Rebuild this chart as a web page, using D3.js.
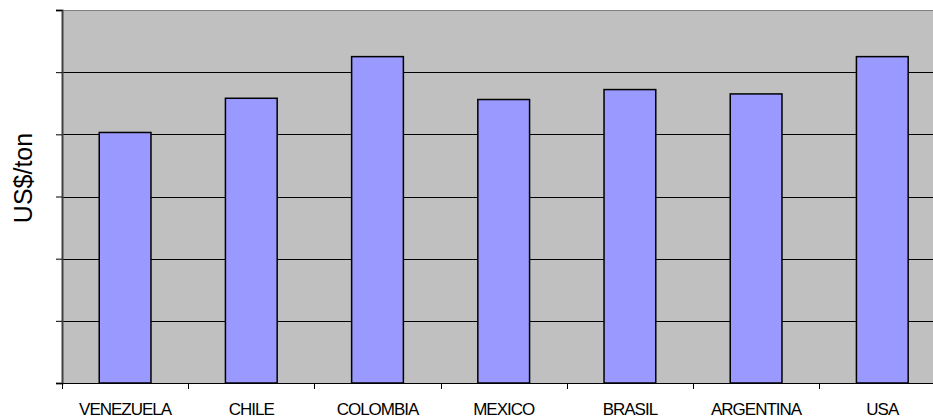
<!DOCTYPE html>
<html>
<head>
<meta charset="utf-8">
<script src="https://cdn.jsdelivr.net/npm/d3@7"></script>
<style>
html,body{margin:0;padding:0;background:#fff;}
svg{display:block;}
text{font-family:"Liberation Sans",Arial,sans-serif;fill:#000;}
</style>
</head>
<body>
<svg id="chart" width="933" height="420"></svg>
<script>
const categories = ["VENEZUELA","CHILE","COLOMBIA","MEXICO","BRASIL","ARGENTINA","USA"];
const values = [403, 458, 525, 456, 472, 465, 525];
const yTicks = [0, 100, 200, 300, 400, 500, 600];
const yTitle = "US$/ton";

const svg = d3.select("#chart");
const pLeft = 62, pTop = 10, pBottom = 383, band = 126.2;
const pRight = pLeft + band * categories.length;

const x = d3.scaleBand().domain(categories).range([pLeft, pRight]).paddingInner(0).paddingOuter(0);
const y = d3.scaleLinear().domain([0, 600]).range([pBottom, pTop]);

// plot background
svg.append("rect").attr("x", pLeft).attr("y", pTop).attr("width", pRight - pLeft).attr("height", pBottom - pTop).attr("fill", "#C0C0C0");
// top border
svg.append("line").attr("x1", pLeft).attr("x2", pRight).attr("y1", pTop + 0.5).attr("y2", pTop + 0.5).attr("stroke", "#808080").attr("stroke-width", 1);

// gridlines
svg.append("g").selectAll("line").data(yTicks.filter(d => d > 0 && d < 600)).join("line")
  .attr("x1", pLeft).attr("x2", pRight)
  .attr("y1", d => Math.round(y(d)) + 0.5).attr("y2", d => Math.round(y(d)) + 0.5)
  .attr("stroke", "#000").attr("stroke-width", 1.2);

// bars
const bw = x.bandwidth() * 0.41;
svg.append("g").selectAll("rect").data(categories).join("rect")
  .attr("x", (d) => x(d) + (x.bandwidth() - bw) / 2)
  .attr("y", (d, i) => y(values[i]))
  .attr("width", bw)
  .attr("height", (d, i) => pBottom - y(values[i]))
  .attr("fill", "#9999FF").attr("stroke", "#000").attr("stroke-width", 1.5);

// y axis
const yAxis = d3.axisLeft(y).tickValues(yTicks).tickSize(6).tickFormat("");
const gy = svg.append("g").attr("transform", `translate(${pLeft},0)`).call(yAxis);
gy.select(".domain").attr("stroke", "#404040").attr("stroke-width", 2);
gy.selectAll(".tick line").attr("stroke", "#000");

// x axis with ticks at category boundaries
const gx = svg.append("g").attr("transform", `translate(0,${pBottom})`);
gx.append("line").attr("x1", pLeft).attr("x2", pRight).attr("y1", 0.5).attr("y2", 0.5).attr("stroke", "#000").attr("stroke-width", 1.2);
gx.selectAll("line.tk").data(categories).join("line").attr("class", "tk")
  .attr("x1", d => Math.round(x(d)) + 0.5).attr("x2", d => Math.round(x(d)) + 0.5)
  .attr("y1", 0).attr("y2", 6).attr("stroke", "#000");
gx.selectAll("text").data(categories).join("text")
  .attr("x", d => x(d) + x.bandwidth() / 2)
  .attr("y", 32)
  .attr("text-anchor", "middle")
  .attr("font-size", 17)
  .attr("letter-spacing", "-1px")
  .text(d => d);

// y title
svg.append("text")
  .attr("transform", "translate(32,178) rotate(-90)")
  .attr("text-anchor", "middle")
  .attr("font-size", 25)
  .text(yTitle);
</script>
</body>
</html>
